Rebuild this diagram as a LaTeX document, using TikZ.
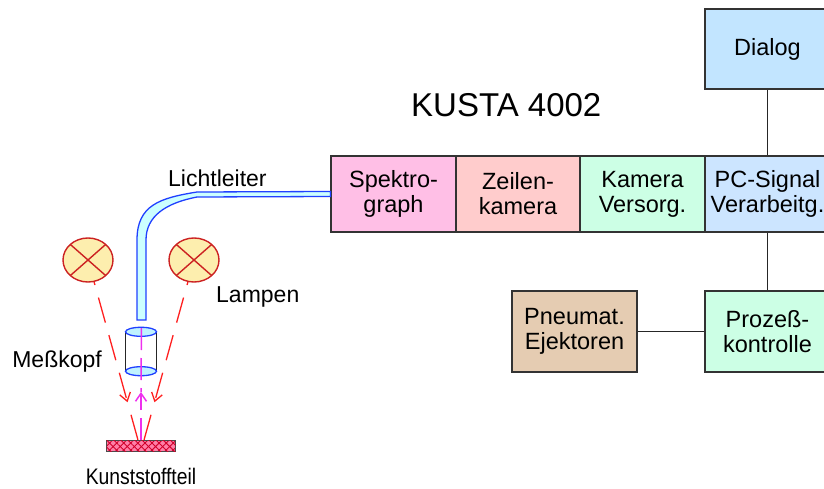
\documentclass[tikz,border=0pt]{standalone}
\usepackage{fontspec}
\setmainfont{Liberation Sans}
\usetikzlibrary{shapes.geometric,arrows.meta,patterns.meta,calc}

\definecolor{spekfill}{HTML}{FFBFE6}
\definecolor{zeilefill}{HTML}{FFCCCC}
\definecolor{mintfill}{HTML}{CCFFE5}
\definecolor{pcfill}{HTML}{CCE5FF}
\definecolor{dialogfill}{HTML}{C2E5FF}
\definecolor{pneufill}{HTML}{E5CCB2}
\definecolor{lampfill}{HTML}{FDEEAE}
\definecolor{lampline}{HTML}{CC2222}
\definecolor{raycol}{HTML}{FF2020}
\definecolor{beamcol}{HTML}{EE30EE}
\definecolor{fiberline}{HTML}{2040FF}
\definecolor{fiberfill}{HTML}{CCFFFF}
\definecolor{lensfill}{HTML}{BFF2FF}
\definecolor{partfill}{HTML}{FF7FA8}
\definecolor{hatchcol}{HTML}{D0002A}

\begin{document}
\begin{tikzpicture}[x=1pt,y=-1pt,
  block/.style={draw=black!80, line width=1.1pt, minimum width=125pt,
    minimum height=76pt, inner sep=0pt, align=center,
    font=\fontsize{23.5}{25}\selectfont},
  link/.style={draw=black!85, line width=1.1pt},
  lbl/.style={font=\fontsize{23}{25}\selectfont, inner sep=0pt},
  ray/.style={draw=raycol, line width=1.3pt, dash pattern=on 26pt off 13pt},
  beam/.style={draw=beamcol, line width=1.5pt, dash pattern=on 22pt off 8pt},
  barb/.style={-{Straight Barb[length=8pt,width=11pt]}},
  lamp/.style={ellipse, draw=lampline, fill=lampfill, line width=1.4pt,
    minimum width=50pt, minimum height=44pt, inner sep=0pt,
    path picture={\draw[lampline, line width=1.4pt]
      (path picture bounding box.north west) -- (path picture bounding box.south east)
      (path picture bounding box.north east) -- (path picture bounding box.south west);}},
  lens/.style={draw=fiberline, fill=lensfill, line width=1.3pt},
  part/.style={draw=black!70, line width=0.8pt, minimum width=69pt,
    minimum height=11pt, inner sep=0pt, preaction={fill=partfill},
    pattern={Lines[angle=45,distance=5pt,line width=0.9pt]},
    pattern color=hatchcol,
    postaction={pattern={Lines[angle=-45,distance=5pt,line width=0.9pt]},
      pattern color=hatchcol}}
]
\useasboundingbox (0,0) rectangle (824,489);
\clip (0,0) rectangle (824,489);

% KUSTA 4002 unit
\node[block, fill=spekfill] (spek) at (393.5,194) {Spektro-\\graph};
\node[block, fill=zeilefill, minimum width=124pt] (zeile) at (518,194) {Zeilen-\\kamera};
\node[block, fill=mintfill] (kam) at (642.5,194) {Kamera\\Versorg.};
\node[block, fill=pcfill] (pc) at (767.5,194) {PC-Signal\\Verarbeitg.};
\node[block, fill=dialogfill, minimum height=80pt] (dialog) at (767.5,49) {Dialog};
\node[block, fill=mintfill, minimum height=81pt] (proz) at (767.5,331.5) {Prozeß-\\kontrolle};
\node[block, fill=pneufill, minimum height=81pt] (pneu) at (574.5,331.5) {Pneumat.\\Ejektoren};

\draw[link] (dialog) -- (pc);
\draw[link] (pc) -- (proz);
\draw[link] (pneu) -- (proz);

\node[font=\fontsize{33}{35}\selectfont, inner sep=0pt, anchor=base west] (title) at (411,117) {KUSTA 4002};

% sample part
\node[part] (part) at (141,446) {};
\node[lbl, anchor=base] (partlbl) at (141,484)
  {\scalebox{0.86}[1]{\fontsize{22.5}{24}\selectfont Kunststoffteil}};

% lamps and their rays (rays start under the lamp bodies)
\coordinate (lamp1) at (88,260);
\coordinate (lamp2) at (194,260);
\coordinate (hitL) at ($(part.north)+(-3,0)$);
\coordinate (hitR) at ($(part.north)+(3,0)$);
\path (lamp1) -- (hitL) coordinate[pos=0.79] (aL);
\path (lamp2) -- (hitR) coordinate[pos=0.79] (aR);
\draw[ray, barb] (lamp1) -- (aL);
\draw[ray, dash phase=26pt] (aL) -- (hitL);
\draw[ray, barb] (lamp2) -- (aR);
\draw[ray, dash phase=26pt] (aR) -- (hitR);
\node[lamp] (lampL) at (lamp1) {};
\node[lamp] (lampR) at (lamp2) {};
\node[lbl, anchor=base west] (lamplbl) at (216,302) {Lampen};

% light guide
\draw[fiberline, fill=fiberfill, line width=1.3pt]
  ($(spek.west)+(0,-2.5)$) -- (197,192)
  .. controls (160,198) and (137,205) .. (137,240) -- (137,320)
  -- (146,320) -- (146,240)
  .. controls (146,216) and (166,203) .. (197,197)
  -- ($(spek.west)+(0,2.5)$) -- cycle;
\coordinate (fend) at (141.5,320);
\node[lbl, anchor=base west] (fiberlbl) at (168,186) {Lichtleiter};

% measuring head
\node[minimum width=31pt, minimum height=39pt, inner sep=0pt] (head) at (141,351.5) {};
\draw[black!85, line width=1.1pt] (head.north west) -- (head.south west)
  (head.north east) -- (head.south east);
\draw[lens] (head.north) ellipse [x radius=15.5, y radius=4.5];
\draw[lens] (head.south) ellipse [x radius=15.5, y radius=4.5];
\node[lbl, anchor=base east] (headlbl) at (102,367) {Meßkopf};

% reflected light back into the head
\coordinate (mA) at (141,392);
\draw[beam, barb] (part.north) -- (mA);
\draw[beam, dash phase=18pt] (mA) -- (fend);
\end{tikzpicture}
\end{document}
